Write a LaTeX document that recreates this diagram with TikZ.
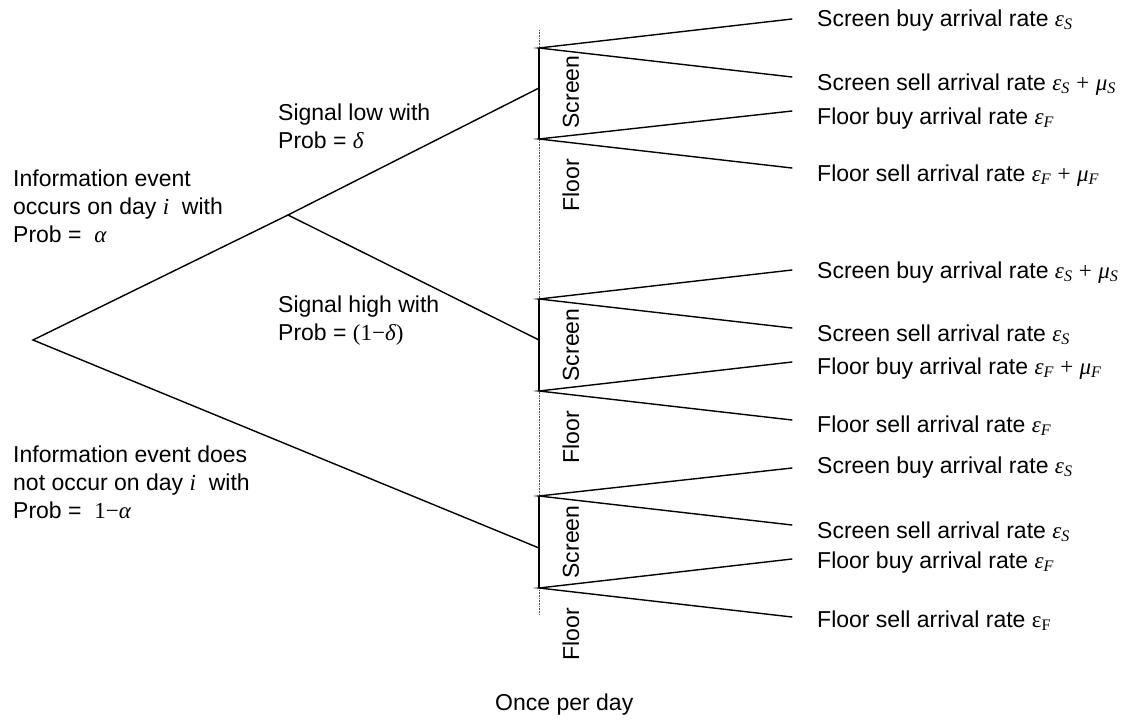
\documentclass[tikz,border=0pt]{standalone}
\usepackage{fontspec}
\setmainfont{Liberation Sans}
\newfontfamily\tms{Liberation Serif}
\newcommand\mi[1]{{\tms\itshape #1}}
\newcommand\mr[1]{{\tms #1}}
\newcommand\sbs[1]{\textsubscript{\tms\itshape #1}}
\newcommand\eS{\mi{ε}\sbs{S}}
\newcommand\eF{\mi{ε}\sbs{F}}
\newcommand\mS{\mi{μ}\sbs{S}}
\newcommand\mF{\mi{μ}\sbs{F}}
\begin{document}
\begin{tikzpicture}[x=1pt,y=-1pt,
  txt/.style={font=\fontsize{23}{28}\selectfont, inner sep=0pt},
  rlab/.style={txt, anchor=base west},
  mlab/.style={txt, anchor=north west, align=left},
  vlab/.style={txt, rotate=90},
  branch/.style={line width=1.4pt, line cap=round},
  stem/.style={line width=1.7pt},
  guide/.style={line width=0.7pt, black!70, dash pattern=on 0.8pt off 0.8pt}]
\useasboundingbox (0,0) rectangle (1125,720);

% main tree points
\coordinate (root) at (33,340);
\coordinate (j) at (288,215);
\coordinate (a1) at (539,88);
\coordinate (a2) at (539,340);
\coordinate (a3) at (539,548);
\coordinate (gtop) at (539,30);
\coordinate (gbot) at (539,615);

% block branch points
\coordinate (b1t) at (539,48);  \coordinate (b1b) at (539,139);
\coordinate (b2t) at (539,299); \coordinate (b2b) at (539,391);
\coordinate (b3t) at (539,496); \coordinate (b3b) at (539,588);

% leaf end points
\coordinate (e1) at (792,19);   \coordinate (e2) at (792,77);
\coordinate (e3) at (792,111);  \coordinate (e4) at (792,168);
\coordinate (e5) at (792,270);  \coordinate (e6) at (792,328);
\coordinate (e7) at (792,362);  \coordinate (e8) at (792,420);
\coordinate (e9) at (792,468);  \coordinate (e10) at (792,525);
\coordinate (e11) at (792,559); \coordinate (e12) at (792,617);

% dotted guide
\draw[guide] (gtop) -- (gbot);

% stems
\draw[stem] (b1t) -- (b1b);
\draw[stem] (b2t) -- (b2b);
\draw[stem] (b3t) -- (b3b);

% tree branches
\draw[branch] (a3) -- (root) -- (j) -- (a1);
\draw[branch] (j) -- (a2);

\draw[branch] (e1) -- (b1t) -- (e2);
\draw[branch] (e3) -- (b1b) -- (e4);
\draw[branch] (e5) -- (b2t) -- (e6);
\draw[branch] (e7) -- (b2b) -- (e8);
\draw[branch] (e9) -- (b3t) -- (e10);
\draw[branch] (e11) -- (b3b) -- (e12);

% left labels
\node[mlab] (occ) at (13,170) {Information event\\occurs on day \mi{i}\ \ with\\Prob =\ \ \mi{α}};
\node[mlab] (nocc) at (13,446) {Information event does\\not occur on day \mi{i}\ \ with\\Prob =\ \ \mr{1−}\mi{α}};
\node[mlab] (low) at (278,104) {Signal low with\\Prob = \mi{δ}};
\node[mlab] (high) at (278,296) {Signal high with\\Prob = \mr{(1−}\mi{δ}\mr{)}};

% vertical labels
\node[vlab] (s1) at (571,92) {Screen};
\node[vlab] (f1) at (571,185) {Floor};
\node[vlab] (s2) at (571,345) {Screen};
\node[vlab] (f2) at (571,437) {Floor};
\node[vlab] (s3) at (571,542) {Screen};
\node[vlab] (f3) at (571,634) {Floor};

% right labels
\node[rlab] (r1) at (817,26) {Screen buy arrival rate \eS};
\node[rlab] (r2) at (817,90) {Screen sell arrival rate \eS{} \mr{+} \mS};
\node[rlab] (r3) at (817,124) {Floor buy arrival rate \eF};
\node[rlab] (r4) at (817,181) {Floor sell arrival rate \eF{} \mr{+} \mF};
\node[rlab] (r5) at (817,278) {Screen buy arrival rate \eS{} \mr{+} \mS};
\node[rlab] (r6) at (817,341) {Screen sell arrival rate \eS};
\node[rlab] (r7) at (817,374) {Floor buy arrival rate \eF{} \mr{+} \mF};
\node[rlab] (r8) at (817,432) {Floor sell arrival rate \eF};
\node[rlab] (r9) at (817,473) {Screen buy arrival rate \eS};
\node[rlab] (r10) at (817,538) {Screen sell arrival rate \eS};
\node[rlab] (r11) at (817,568) {Floor buy arrival rate \eF};
\node[rlab] (r12) at (817,627) {Floor sell arrival rate \mr{ε\textsubscript{F}}};

\node[rlab] (once) at (495,710) {Once per day};
\end{tikzpicture}
\end{document}
